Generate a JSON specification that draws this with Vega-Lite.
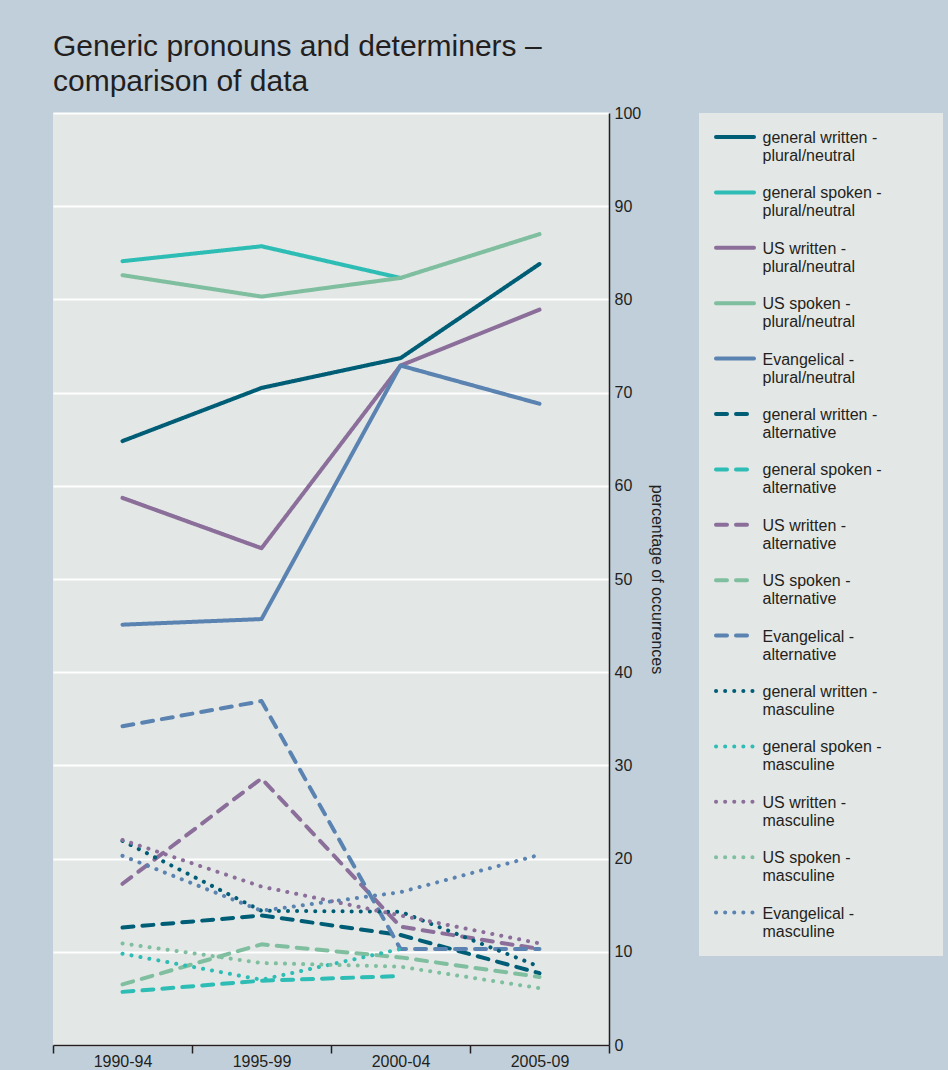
{
  "$schema": "https://vega.github.io/schema/vega-lite/v6.json",
  "width": 556,
  "height": 932,
  "autosize": {"type": "none"},
  "padding": {"left": 53, "top": 113, "right": 339, "bottom": 25},
  "background": "#c1cfda",
  "title": {
    "text": ["Generic pronouns and determiners –", "comparison of data"],
    "anchor": "start",
    "frame": "group",
    "font": "Liberation Sans",
    "fontSize": 30,
    "fontWeight": "normal",
    "color": "#231f20",
    "lineHeight": 35,
    "offset": 8
  },
  "config": {
    "font": "Liberation Sans",
    "view": {"fill": "#e3e7e6", "stroke": null}
  },
  "data": {
    "values": [
      {"period": "1990-94", "series": "general written - plural/neutral", "value": 64.8},
      {"period": "1995-99", "series": "general written - plural/neutral", "value": 70.5},
      {"period": "2000-04", "series": "general written - plural/neutral", "value": 73.7},
      {"period": "2005-09", "series": "general written - plural/neutral", "value": 83.8},
      {"period": "1990-94", "series": "general spoken - plural/neutral", "value": 84.1},
      {"period": "1995-99", "series": "general spoken - plural/neutral", "value": 85.7},
      {"period": "2000-04", "series": "general spoken - plural/neutral", "value": 82.3},
      {"period": "1990-94", "series": "US written - plural/neutral", "value": 58.7},
      {"period": "1995-99", "series": "US written - plural/neutral", "value": 53.3},
      {"period": "2000-04", "series": "US written - plural/neutral", "value": 72.9},
      {"period": "2005-09", "series": "US written - plural/neutral", "value": 78.9},
      {"period": "1990-94", "series": "US spoken - plural/neutral", "value": 82.6},
      {"period": "1995-99", "series": "US spoken - plural/neutral", "value": 80.3},
      {"period": "2000-04", "series": "US spoken - plural/neutral", "value": 82.3},
      {"period": "2005-09", "series": "US spoken - plural/neutral", "value": 87.0},
      {"period": "1990-94", "series": "Evangelical - plural/neutral", "value": 45.1},
      {"period": "1995-99", "series": "Evangelical - plural/neutral", "value": 45.7},
      {"period": "2000-04", "series": "Evangelical - plural/neutral", "value": 72.9},
      {"period": "2005-09", "series": "Evangelical - plural/neutral", "value": 68.8},
      {"period": "1990-94", "series": "general written - alternative", "value": 12.6},
      {"period": "1995-99", "series": "general written - alternative", "value": 13.9},
      {"period": "2000-04", "series": "general written - alternative", "value": 11.8},
      {"period": "2005-09", "series": "general written - alternative", "value": 7.7},
      {"period": "1990-94", "series": "general spoken - alternative", "value": 5.7},
      {"period": "1995-99", "series": "general spoken - alternative", "value": 6.9},
      {"period": "2000-04", "series": "general spoken - alternative", "value": 7.4},
      {"period": "1990-94", "series": "US written - alternative", "value": 17.3},
      {"period": "1995-99", "series": "US written - alternative", "value": 28.6},
      {"period": "2000-04", "series": "US written - alternative", "value": 12.7},
      {"period": "2005-09", "series": "US written - alternative", "value": 10.3},
      {"period": "1990-94", "series": "US spoken - alternative", "value": 6.5},
      {"period": "1995-99", "series": "US spoken - alternative", "value": 10.8},
      {"period": "2000-04", "series": "US spoken - alternative", "value": 9.4},
      {"period": "2005-09", "series": "US spoken - alternative", "value": 7.3},
      {"period": "1990-94", "series": "Evangelical - alternative", "value": 34.2},
      {"period": "1995-99", "series": "Evangelical - alternative", "value": 36.9},
      {"period": "2000-04", "series": "Evangelical - alternative", "value": 10.3},
      {"period": "2005-09", "series": "Evangelical - alternative", "value": 10.3},
      {"period": "1990-94", "series": "general written - masculine", "value": 21.9},
      {"period": "1995-99", "series": "general written - masculine", "value": 14.4},
      {"period": "2000-04", "series": "general written - masculine", "value": 14.3},
      {"period": "2005-09", "series": "general written - masculine", "value": 8.4},
      {"period": "1990-94", "series": "general spoken - masculine", "value": 9.8},
      {"period": "1995-99", "series": "general spoken - masculine", "value": 7.0},
      {"period": "2000-04", "series": "general spoken - masculine", "value": 10.3},
      {"period": "1990-94", "series": "US written - masculine", "value": 22.0},
      {"period": "1995-99", "series": "US written - masculine", "value": 17.0},
      {"period": "2000-04", "series": "US written - masculine", "value": 13.9},
      {"period": "2005-09", "series": "US written - masculine", "value": 10.9},
      {"period": "1990-94", "series": "US spoken - masculine", "value": 10.9},
      {"period": "1995-99", "series": "US spoken - masculine", "value": 8.8},
      {"period": "2000-04", "series": "US spoken - masculine", "value": 8.4},
      {"period": "2005-09", "series": "US spoken - masculine", "value": 6.1},
      {"period": "1990-94", "series": "Evangelical - masculine", "value": 20.3},
      {"period": "1995-99", "series": "Evangelical - masculine", "value": 14.4},
      {"period": "2000-04", "series": "Evangelical - masculine", "value": 16.4},
      {"period": "2005-09", "series": "Evangelical - masculine", "value": 20.4}
    ]
  },
  "mark": {"type": "line", "strokeWidth": 4, "strokeCap": "round", "strokeJoin": "round"},
  "encoding": {
    "x": {
      "field": "period",
      "type": "ordinal",
      "scale": {"type": "band", "paddingInner": 0, "paddingOuter": 0},
      "axis": {
        "title": null,
        "labelAngle": 0,
        "tickBand": "extent",
        "tickSize": 8,
        "tickWidth": 1.5,
        "tickColor": "#231f20",
        "domainColor": "#231f20",
        "domainWidth": 1.5,
        "labelFont": "Liberation Sans",
        "labelFontSize": 16,
        "labelColor": "#231f20",
        "labelPadding": 0,
        "grid": false
      }
    },
    "y": {
      "field": "value",
      "type": "quantitative",
      "scale": {"domain": [0, 100], "nice": false},
      "axis": {
        "orient": "right",
        "values": [0, 10, 20, 30, 40, 50, 60, 70, 80, 90, 100],
        "ticks": false,
        "domainColor": "#231f20",
        "domainWidth": 1.5,
        "gridColor": "#ffffff",
        "gridWidth": 2,
        "labelFont": "Liberation Sans",
        "labelFontSize": 16,
        "labelColor": "#231f20",
        "labelPadding": 5,
        "labelFlush": false,
        "labelOverlap": false,
        "title": "percentage of occurrences",
        "titleFont": "Liberation Sans",
        "titleFontSize": 16,
        "titleFontWeight": "normal",
        "titleColor": "#231f20",
        "titlePadding": 8
      }
    },
    "color": {
      "field": "series",
      "type": "nominal",
      "scale": {
        "domain": [
          "general written - plural/neutral", "general spoken - plural/neutral", "US written - plural/neutral", "US spoken - plural/neutral", "Evangelical - plural/neutral",
          "general written - alternative", "general spoken - alternative", "US written - alternative", "US spoken - alternative", "Evangelical - alternative",
          "general written - masculine", "general spoken - masculine", "US written - masculine", "US spoken - masculine", "Evangelical - masculine"
        ],
        "range": [
          "#005d76", "#2dbdb5", "#8b6f9a", "#7fbf9f", "#5a83b1",
          "#005d76", "#2dbdb5", "#8b6f9a", "#7fbf9f", "#5a83b1",
          "#005d76", "#2dbdb5", "#8b6f9a", "#7fbf9f", "#5a83b1"
        ]
      },
      "legend": {
        "title": null,
        "orient": "none",
        "legendX": 646,
        "legendY": 0,
        "symbolType": "M-4,0H4",
        "symbolSize": 90.25,
        "symbolStrokeWidth": 4,
        "symbolOffset": 12,
        "labelFont": "Liberation Sans",
        "labelFontSize": 16,
        "labelColor": "#231f20",
        "labelLimit": 400,
        "labelOffset": 19.5,
        "labelBaseline": "alphabetic",
        "labelLineHeight": 21,
        "labelExpr": "split(replace(datum.label, ' - ', ' -\u2007\u2007\u2007\u2007\u2007\u200b|'), '|')",
        "rowPadding": 20.4,
        "padding": 16,
        "fillColor": "#e3e7e6",
        "encoding": {
          "symbols": {"strokeCap": {"value": "round"}},
          "labels": {"dy": {"value": 6}}
        }
      }
    },
    "strokeDash": {
      "field": "series",
      "type": "nominal",
      "scale": {
        "domain": [
          "general written - plural/neutral", "general spoken - plural/neutral", "US written - plural/neutral", "US spoken - plural/neutral", "Evangelical - plural/neutral",
          "general written - alternative", "general spoken - alternative", "US written - alternative", "US spoken - alternative", "Evangelical - alternative",
          "general written - masculine", "general spoken - masculine", "US written - masculine", "US spoken - masculine", "Evangelical - masculine"
        ],
        "range": [
          [1, 0], [1, 0], [1, 0], [1, 0], [1, 0],
          [11, 9], [11, 9], [11, 9], [11, 9], [11, 9],
          [0.1, 9], [0.1, 9], [0.1, 9], [0.1, 9], [0.1, 9]
        ]
      },
      "legend": {
        "title": null,
        "orient": "none",
        "legendX": 646,
        "legendY": 0,
        "symbolType": "M-4,0H4",
        "symbolSize": 90.25,
        "symbolStrokeWidth": 4,
        "symbolOffset": 12,
        "labelFont": "Liberation Sans",
        "labelFontSize": 16,
        "labelColor": "#231f20",
        "labelLimit": 400,
        "labelOffset": 19.5,
        "labelBaseline": "alphabetic",
        "labelLineHeight": 21,
        "labelExpr": "split(replace(datum.label, ' - ', ' -\u2007\u2007\u2007\u2007\u2007\u200b|'), '|')",
        "rowPadding": 20.4,
        "padding": 16,
        "fillColor": "#e3e7e6",
        "encoding": {
          "symbols": {"strokeCap": {"value": "round"}},
          "labels": {"dy": {"value": 6}}
        }
      }
    }
  }
}
